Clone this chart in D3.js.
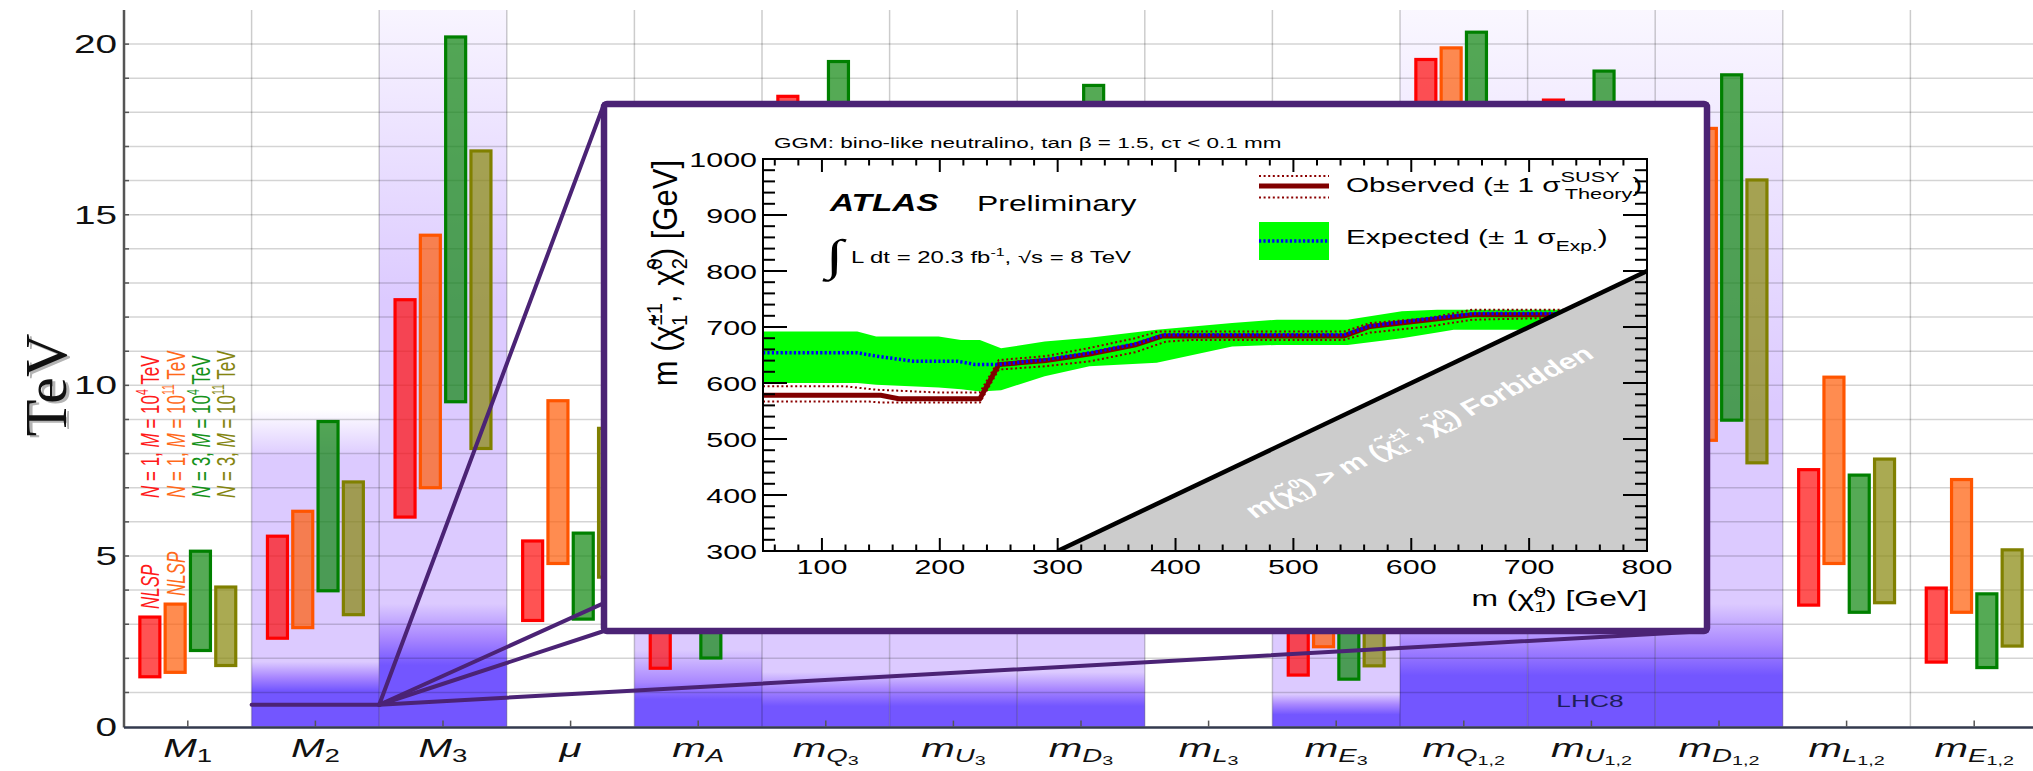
<!DOCTYPE html>
<html>
<head>
<meta charset="utf-8">
<script src="https://cdn.jsdelivr.net/npm/d3@7"></script>
<style>
  html, body { margin: 0; padding: 0; background: #ffffff; }
  svg { display: block; font-family: "Liberation Sans", Arial, Helvetica, sans-serif; }
</style>
</head>
<body>
<svg id="chart" width="2033" height="771"></svg>
<script>
// ---------------- main chart data ----------------
const categories = ["M1","M2","M3","mu","mA","mQ3","mU3","mD3","mL3","mE3","mQ12","mU12","mD12","mL12","mE12"];
const catMain    = ["M","M","M","μ","m","m","m","m","m","m","m","m","m","m","m"];
const catSub     = ["1","2","3","","A","Q","U","D","L","E","Q","U","D","L","E"];
const catSubSub  = ["","","","","","3","3","3","3","3","1,2","1,2","1,2","1,2","1,2"];

// allowed ranges (TeV) for each messenger scenario: low / high edge
const n1m4Low   = [1.46, 2.59, 6.14, 3.11, 1.71, 8.6, 8.0, 7.5, 3.5, 1.51, 9.0, 8.5, 7.6, 3.56, 1.89];
const n1m4High  = [3.21, 5.58, 12.51, 5.44, 4.6, 18.47, 16.5, 16.0, 7.5, 4.1, 19.55, 18.36, 16.9, 7.53, 4.06];
const n1m11Low  = [1.59, 2.90, 7.00, 4.78, 3.0, 9.5, 9.0, 8.5, 4.8, 2.34, 10.0, 9.5, 8.39, 4.78, 3.35];
const n1m11High = [3.59, 6.31, 14.40, 9.55, 7.8, 17.6, 17.5, 17.0, 10.2, 7.2, 19.89, 17.8, 17.53, 10.24, 7.24];
const n3m4Low   = [2.23, 3.98, 9.52, 3.15, 2.01, 10.0, 9.5, 9.5, 3.3, 1.39, 11.0, 10.5, 8.98, 3.35, 1.73];
const n3m4High  = [5.14, 8.94, 20.21, 5.67, 5.0, 19.49, 17.8, 18.79, 7.4, 3.9, 20.35, 19.21, 19.10, 7.37, 3.89];
const n3m11Low  = [1.79, 3.28, 8.15, 4.38, 2.9, 9.0, 8.5, 8.0, 3.6, 1.78, 9.5, 9.0, 7.73, 3.63, 2.36];
const n3m11High = [4.09, 7.17, 16.87, 8.74, 7.0, 17.0, 16.0, 16.5, 7.8, 5.2, 17.5, 17.0, 16.02, 7.84, 5.18];

const seriesN     = ["1", "1", "3", "3"];
const seriesMexp  = ["4", "11", "4", "11"];
const seriesNLSP  = [true, true, false, false];

const yTickValues = [0, 5, 10, 15, 20];

// LHC8 exclusion shading: TeV levels of the colour transitions per category
const bandCats     = ["M2","M3","mA","mQ3","mU3","mD3","mE3","mQ12","mU12","mD12"];
const bandWhite    = [9.3, 23.0, 3.9, 5.0, 5.0, 5.0, 5.0, 23.0, 23.0, 23.0];
const bandLav      = [7.9, 12.5, 3.4, 4.3, 4.3, 4.3, 4.3, 9.5, 9.5, 9.5];
const bandMidStart = [1.9, 3.6, 2.25, 1.6, 1.6, 1.6, 0.95, 3.6, 3.6, 3.6];
const bandMid      = [1.45, 2.6, 1.3, 1.1, 1.1, 1.1, 0.65, 2.4, 2.4, 2.4];
const bandDark     = [1.05, 1.8, 0.8, 0.6, 0.6, 0.6, 0.35, 1.5, 1.5, 1.5];

const zoomAnchorTeV = 0.64;

// ---------------- inset (ATLAS GGM limit) data ----------------
const obsMass   = [50,150,165,234,250,290,328,366,389,543,565,615,652,721];
const obsLimit  = [578,578,572,572,633,640,652,668,684,684,701,713,722,722];
const obsUpMass = [50,120,146,199,234,250,290,328,366,385,543,565,615,652,731];
const obsUp     = [594,594,588,583,583,641,648,663,680,692,692,707,716,731,731];
const obsDnMass = [50,140,150,234,250,290,328,366,392,415,543,565,615,652,716];
const obsDn     = [567,567,565,565,624,630,639,655,674,677,677,690,701,713,716];
const expMass   = [50,130,146,177,215,230,249,290,328,366,390,543,565,615,652,724];
const expLimit  = [654,654,648,639,639,633,633,642,654,670,686,686,702,715,724,724];
const bandMass  = [50,130,146,199,218,234,252,289,327,384,448,486,546,592,622,636,740];
const bandUp    = [692,692,683,683,677,677,662,674,681,695,707,713,713,728,731,731,731];
const bandDn    = [600,600,597,592,589,585,587,612,630,636,665,668,668,680,690,695,695];

const insetXTicks = [100,200,300,400,500,600,700,800];
const insetYTicks = [300,400,500,600,700,800,900,1000];

// ---------------- layout ----------------
const W = 2033, H = 771;
const svg = d3.select("#chart");
const defs = svg.append("defs");

const plotLeft = 124, plotTop = 10, plotBottom = 726.6, catWidth = 127.6;
const x = d3.scaleBand().domain(categories)
  .range([plotLeft, plotLeft + catWidth * categories.length]).padding(0);
const y = d3.scaleLinear().domain([0, 21]).range([plotBottom, plotTop]);
const cx = c => x(c) + x.bandwidth() / 2;

const MAIN_SX = 1.55;   // horizontal widening of the text
const INSET_SX = 1.45;

const seriesStroke = ["#ff0000", "#ff5500", "#008000", "#808000"];
const seriesFill   = ["#ff1010", "#ff600c", "#138913", "#89890f"];
const seriesText   = ["#ff1a1a", "#ff6a1a", "#15921a", "#858510"];
const seriesLow  = [n1m4Low, n1m11Low, n3m4Low, n3m11Low];
const seriesHigh = [n1m4High, n1m11High, n3m4High, n3m11High];

function sText(parent, px, py, sx, rot) {
  return parent.append("text")
    .attr("transform", `translate(${px},${py}) scale(${sx},1)` + (rot ? ` rotate(${rot})` : ""));
}
function rich(t, parts) {
  parts.forEach(([s, o]) => {
    o = o || {};
    const ts = t.append("tspan").text(s);
    if (o.fs) ts.attr("font-size", o.fs);
    if (o.dy) ts.attr("dy", o.dy);
    if (o.dx) ts.attr("dx", o.dx);
    if (o.it) ts.attr("font-style", "italic");
    if (o.bold) ts.attr("font-weight", "bold");
  });
  return t;
}

// ---------------- LHC8 shading ----------------
const LAV = "#dccaff", MID = "#a987ff", DARK = "#7356ff";
const gBands = svg.append("g");
bandCats.forEach((c, i) => {
  const y1 = y(bandWhite[i]), y2 = y(0);
  const off = v => Math.max(0, Math.min(1, (y(v) - y1) / (y2 - y1)));
  const grad = defs.append("linearGradient")
    .attr("id", "band" + i).attr("gradientUnits", "userSpaceOnUse")
    .attr("x1", 0).attr("x2", 0).attr("y1", y1).attr("y2", y2);
  [[bandWhite[i], "#ffffff"], [bandLav[i], LAV], [bandMidStart[i], LAV],
   [bandMid[i], MID], [bandDark[i], DARK], [0, DARK]].forEach(([v, col]) => {
    grad.append("stop").attr("offset", off(v)).attr("stop-color", col);
  });
  const top = y(Math.min(bandWhite[i], 21));
  gBands.append("rect")
    .attr("x", x(c)).attr("width", x.bandwidth())
    .attr("y", top).attr("height", y(0) - top)
    .attr("fill", `url(#band${i})`);
});

// ---------------- grid ----------------
const gGrid = svg.append("g");
gGrid.selectAll("line.h").data(d3.range(1, 21)).join("line")
  .attr("x1", plotLeft).attr("x2", W)
  .attr("y1", d => y(d)).attr("y2", d => y(d))
  .attr("stroke", "rgba(0,0,0,0.17)").attr("stroke-width", 1.5);
gGrid.selectAll("line.v").data(categories.slice(1)).join("line")
  .attr("x1", d => x(d)).attr("x2", d => x(d))
  .attr("y1", plotTop).attr("y2", plotBottom)
  .attr("stroke", "rgba(0,0,0,0.2)").attr("stroke-width", 1.5);

// ---------------- bars ----------------
const barW = 20, barStep = 25.3;
const gBars = svg.append("g");
seriesLow.forEach((low, si) => {
  const high = seriesHigh[si];
  gBars.append("g").selectAll("rect").data(categories).join("rect")
    .attr("x", c => cx(c) + (si - 1.5) * barStep - barW / 2)
    .attr("y", (c, i) => y(high[i]))
    .attr("width", barW)
    .attr("height", (c, i) => y(low[i]) - y(high[i]))
    .attr("fill", seriesFill[si]).attr("fill-opacity", 0.72)
    .attr("stroke", seriesStroke[si]).attr("stroke-width", 3.2);
});

// scenario labels, written upward above the M1 bars
const gLeg = svg.append("g").attr("font-size", 17);
seriesN.forEach((n, si) => {
  const px = cx("M1") + (si - 1.5) * barStep;
  const t = sText(gLeg, px, 498, MAIN_SX, -90).attr("dy", "0.36em").attr("fill", seriesText[si]);
  rich(t, [["N", {it: true}], [" = " + n + ", "], ["M", {it: true}], [" = 10"],
           [seriesMexp[si], {fs: 10.5, dy: -7}], [" TeV", {dy: 7}]]);
  if (seriesNLSP[si]) {
    const nt = sText(gLeg, px, y(seriesHigh[si][0]) - 8, MAIN_SX, -90)
      .attr("dy", "0.36em").attr("fill", seriesText[si]).attr("font-style", "italic");
    nt.text("NLSP");
  }
});

// ---------------- axes ----------------
const gAxis = svg.append("g");
gAxis.append("line").attr("x1", plotLeft).attr("x2", plotLeft)
  .attr("y1", plotTop).attr("y2", plotBottom + 1)
  .attr("stroke", "#555").attr("stroke-width", 2.5);
gAxis.append("line").attr("x1", plotLeft).attr("x2", W)
  .attr("y1", plotBottom + 1).attr("y2", plotBottom + 1)
  .attr("stroke", "#333a4e").attr("stroke-width", 2.5);
gAxis.selectAll("line.yt").data(d3.range(1, 21)).join("line")
  .attr("x1", plotLeft).attr("x2", plotLeft + 5)
  .attr("y1", d => y(d)).attr("y2", d => y(d))
  .attr("stroke", "#555").attr("stroke-width", 1.5);
gAxis.selectAll("line.xt").data(categories).join("line")
  .attr("x1", d => cx(d)).attr("x2", d => cx(d))
  .attr("y1", plotBottom).attr("y2", plotBottom - 6)
  .attr("stroke", "#555").attr("stroke-width", 1.5);

yTickValues.forEach(v => {
  sText(gAxis, 117, y(v), MAIN_SX).attr("text-anchor", "end").attr("dy", "0.36em")
    .attr("font-size", 25).attr("fill", "#111").text(v);
});

// category labels
categories.forEach((c, i) => {
  const t = sText(gAxis, cx(c), 757, 1.58).attr("text-anchor", "middle")
    .attr("font-size", 25.5).attr("fill", "#111");
  const parts = [[catMain[i], {it: true}]];
  if (catSub[i]) {
    const isNum = /^[0-9]/.test(catSub[i]);
    parts.push([catSub[i], {fs: 17.5, dy: 5, it: !isNum}]);
  }
  if (catSubSub[i]) parts.push([catSubSub[i], {fs: 12.5, dy: 3}]);
  rich(t, parts);
});

// y axis title with a soft drop shadow
const yTitleX = 44, yTitleY = 385;
const serif = "'Liberation Serif', 'DejaVu Serif', 'Times New Roman', serif";
svg.append("text").attr("transform", `translate(${yTitleX + 3},${yTitleY + 2}) rotate(-90)`)
  .attr("text-anchor", "middle").attr("dy", "0.36em")
  .style("font-family", serif).attr("font-size", 60)
  .attr("fill", "#b4b4b4").text("TeV");
svg.append("text").attr("transform", `translate(${yTitleX},${yTitleY}) rotate(-90)`)
  .attr("text-anchor", "middle").attr("dy", "0.36em")
  .style("font-family", serif).attr("font-size", 60)
  .attr("fill", "#111").text("TeV");

// LHC8 label
sText(svg, 1590, 707, MAIN_SX).attr("text-anchor", "middle").attr("font-size", 17)
  .attr("fill", "#1e1e5a").text("LHC8");

// ---------------- zoom connector ----------------
const box = {x0: 604, y0: 104, x1: 1707, y1: 631};
const anchor = [x("M3"), y(zoomAnchorTeV)];
const PURPLE = "#4b2375";
const gConn = svg.append("g").attr("stroke", PURPLE).attr("stroke-width", 4)
  .attr("stroke-linecap", "round");
gConn.append("line").attr("x1", x("M2")).attr("y1", anchor[1]).attr("x2", anchor[0]).attr("y2", anchor[1]);
[[box.x0, box.y0], [box.x1, box.y0], [box.x0, box.y1], [box.x1, box.y1]].forEach(p => {
  gConn.append("line").attr("x1", anchor[0]).attr("y1", anchor[1]).attr("x2", p[0]).attr("y2", p[1]);
});

// ---------------- inset ----------------
const gIn = svg.append("g");
gIn.append("rect").attr("x", box.x0).attr("y", box.y0)
  .attr("width", box.x1 - box.x0).attr("height", box.y1 - box.y0).attr("rx", 3)
  .attr("fill", "#ffffff").attr("stroke", PURPLE).attr("stroke-width", 6.5);

const ix = d3.scaleLinear().domain([50, 800]).range([763, 1647]);
const iy = d3.scaleLinear().domain([300, 1000]).range([551, 159]);

defs.append("clipPath").attr("id", "insetClip").append("rect")
  .attr("x", ix(50)).attr("y", iy(1000)).attr("width", ix(800) - ix(50)).attr("height", iy(300) - iy(1000));
const gPlot = gIn.append("g").attr("clip-path", "url(#insetClip)");

const zip = (xs, ys) => xs.map((v, i) => [v, ys[i]]);
const bandPts = bandMass.map((m, i) => ({m, lo: bandDn[i], hi: bandUp[i]}));
gPlot.append("path").datum(bandPts)
  .attr("d", d3.area().x(d => ix(d.m)).y0(d => iy(d.lo)).y1(d => iy(d.hi)))
  .attr("fill", "#00ff00");

const line = d3.line().x(d => ix(d[0])).y(d => iy(d[1]));
[[obsUpMass, obsUp], [obsDnMass, obsDn]].forEach(([xs, ys]) => {
  gPlot.append("path").datum(zip(xs, ys)).attr("d", line)
    .attr("fill", "none").attr("stroke", "#8b0000").attr("stroke-width", 2)
    .attr("stroke-dasharray", "2,2.6");
});
gPlot.append("path").datum(zip(obsMass, obsLimit)).attr("d", line)
  .attr("fill", "none").attr("stroke", "#800000").attr("stroke-width", 5);
gPlot.append("path").datum(zip(expMass, expLimit)).attr("d", line)
  .attr("fill", "none").attr("stroke", "#0000ff").attr("stroke-width", 3.5)
  .attr("stroke-dasharray", "2.2,2.2");

// kinematically forbidden region
gPlot.append("path").datum([[300, 300], [800, 800], [800, 300]])
  .attr("d", d => line(d) + "Z").attr("fill", "#cccccc");
gPlot.append("path").datum([[300, 300], [800, 800]]).attr("d", line)
  .attr("stroke", "#000").attr("stroke-width", 4.5);

// forbidden label along the diagonal
{
  const phi = Math.atan2(iy(300) - iy(800), ix(800) - ix(300));
  const rotPre = -Math.atan(Math.tan(phi) * INSET_SX) * 180 / Math.PI;
  const t = sText(gIn, 1425, 438, INSET_SX, rotPre).attr("text-anchor", "middle")
    .attr("font-size", 21.5).attr("font-weight", "bold").attr("fill", "#ffffff");
  rich(t, [["m(χ\u0303"], ["0", {fs: 13, dy: -9}], ["1", {fs: 13, dy: 14, dx: -7.5}],
           [") >  m (χ\u0303", {dy: -5}], ["±1", {fs: 13, dy: -9}], ["1", {fs: 13, dy: 14, dx: -15}],
           [", χ\u0303", {dy: -5, dx: 7.5}], ["0", {fs: 13, dy: -9}], ["2", {fs: 13, dy: 14, dx: -7.5}],
           [") Forbidden", {dy: -5}]]);
}

// frame and ticks
gIn.append("rect").attr("x", ix(50)).attr("y", iy(1000))
  .attr("width", ix(800) - ix(50)).attr("height", iy(300) - iy(1000))
  .attr("fill", "none").attr("stroke", "#000").attr("stroke-width", 2);
const gT = gIn.append("g").attr("stroke", "#000").attr("stroke-width", 2);
const xMinor = d3.range(60, 801, 20).filter(v => v % 100 !== 0);
const yMinor = d3.range(320, 1000, 20).filter(v => v % 100 !== 0);
[[insetXTicks, 13], [xMinor, 6.5]].forEach(([vals, len]) => {
  vals.forEach(v => {
    gT.append("line").attr("x1", ix(v)).attr("x2", ix(v)).attr("y1", iy(300)).attr("y2", iy(300) - len);
    gT.append("line").attr("x1", ix(v)).attr("x2", ix(v)).attr("y1", iy(1000)).attr("y2", iy(1000) + len);
  });
});
[[insetYTicks, 24], [yMinor, 12]].forEach(([vals, len]) => {
  vals.forEach(v => {
    gT.append("line").attr("x1", ix(50)).attr("x2", ix(50) + len).attr("y1", iy(v)).attr("y2", iy(v));
    gT.append("line").attr("x1", ix(800)).attr("x2", ix(800) - len).attr("y1", iy(v)).attr("y2", iy(v));
  });
});

const gTL = gIn.append("g").attr("font-size", 21).attr("fill", "#000");
insetXTicks.forEach(v => {
  sText(gTL, ix(v), 574, INSET_SX).attr("text-anchor", "middle").text(v);
});
insetYTicks.forEach(v => {
  sText(gTL, 757, iy(v), INSET_SX).attr("text-anchor", "end").attr("dy", "0.36em").text(v);
});

// axis titles
rich(sText(gIn, 1647, 606, INSET_SX).attr("text-anchor", "end").attr("font-size", 22),
  [["m (χ\u0303"], ["0", {fs: 14.5, dy: -9}], ["1", {fs: 14.5, dy: 15, dx: -8}], [") [GeV]", {dy: -6}]]);
rich(sText(gIn, 664, 160, 1.12, -90).attr("text-anchor", "end").attr("dy", "0.36em").attr("font-size", 31),
  [["m (χ\u0303"], ["±1", {fs: 20, dy: -13}], ["1", {fs: 20, dy: 22, dx: -23}],
   [", χ\u0303", {dy: -9, dx: 12}], ["0", {fs: 20, dy: -13}], ["2", {fs: 20, dy: 22, dx: -11}],
   [") [GeV]", {dy: -9}]]);

// title and labels
sText(gIn, 774, 148, INSET_SX).attr("font-size", 15.5)
  .text("GGM: bino-like neutralino, tan β = 1.5, cτ < 0.1 mm");
sText(gIn, 830, 211, INSET_SX).attr("font-size", 23).attr("font-weight", "bold")
  .attr("font-style", "italic").text("ATLAS");
sText(gIn, 977, 211, INSET_SX).attr("font-size", 22).text("Preliminary");
sText(gIn, 826, 270, INSET_SX).attr("font-size", 44).style("font-family", serif).text("∫");
rich(sText(gIn, 851, 263, INSET_SX).attr("font-size", 16.5),
  [["L dt = 20.3 fb"], ["-1", {fs: 11, dy: -7}], [", √s = 8 TeV", {dy: 7}]]);

// legend
const lgX0 = 1259, lgX1 = 1329;
gIn.append("line").attr("x1", lgX0).attr("x2", lgX1).attr("y1", 176).attr("y2", 176)
  .attr("stroke", "#8b0000").attr("stroke-width", 2).attr("stroke-dasharray", "2,2.6");
gIn.append("line").attr("x1", lgX0).attr("x2", lgX1).attr("y1", 197.5).attr("y2", 197.5)
  .attr("stroke", "#8b0000").attr("stroke-width", 2).attr("stroke-dasharray", "2,2.6");
gIn.append("line").attr("x1", lgX0).attr("x2", lgX1).attr("y1", 186).attr("y2", 186)
  .attr("stroke", "#800000").attr("stroke-width", 5);
gIn.append("rect").attr("x", lgX0).attr("y", 222).attr("width", lgX1 - lgX0).attr("height", 38)
  .attr("fill", "#00ff00");
gIn.append("line").attr("x1", lgX0).attr("x2", lgX1).attr("y1", 241).attr("y2", 241)
  .attr("stroke", "#0000ff").attr("stroke-width", 3.5).attr("stroke-dasharray", "2.2,2.2");
rich(sText(gIn, 1346, 192, INSET_SX).attr("font-size", 20.5),
  [["Observed (± 1 σ", {}], ["SUSY", {fs: 15, dy: -10}], ["Theory", {fs: 15, dy: 17, dx: -38}], [")", {dy: -7, fs: 21}]]);
rich(sText(gIn, 1346, 244, INSET_SX).attr("font-size", 20.5),
  [["Expected (± 1 σ"], ["Exp.", {fs: 14.5, dy: 7}], [")", {dy: -7}]]);
</script>
</body>
</html>
